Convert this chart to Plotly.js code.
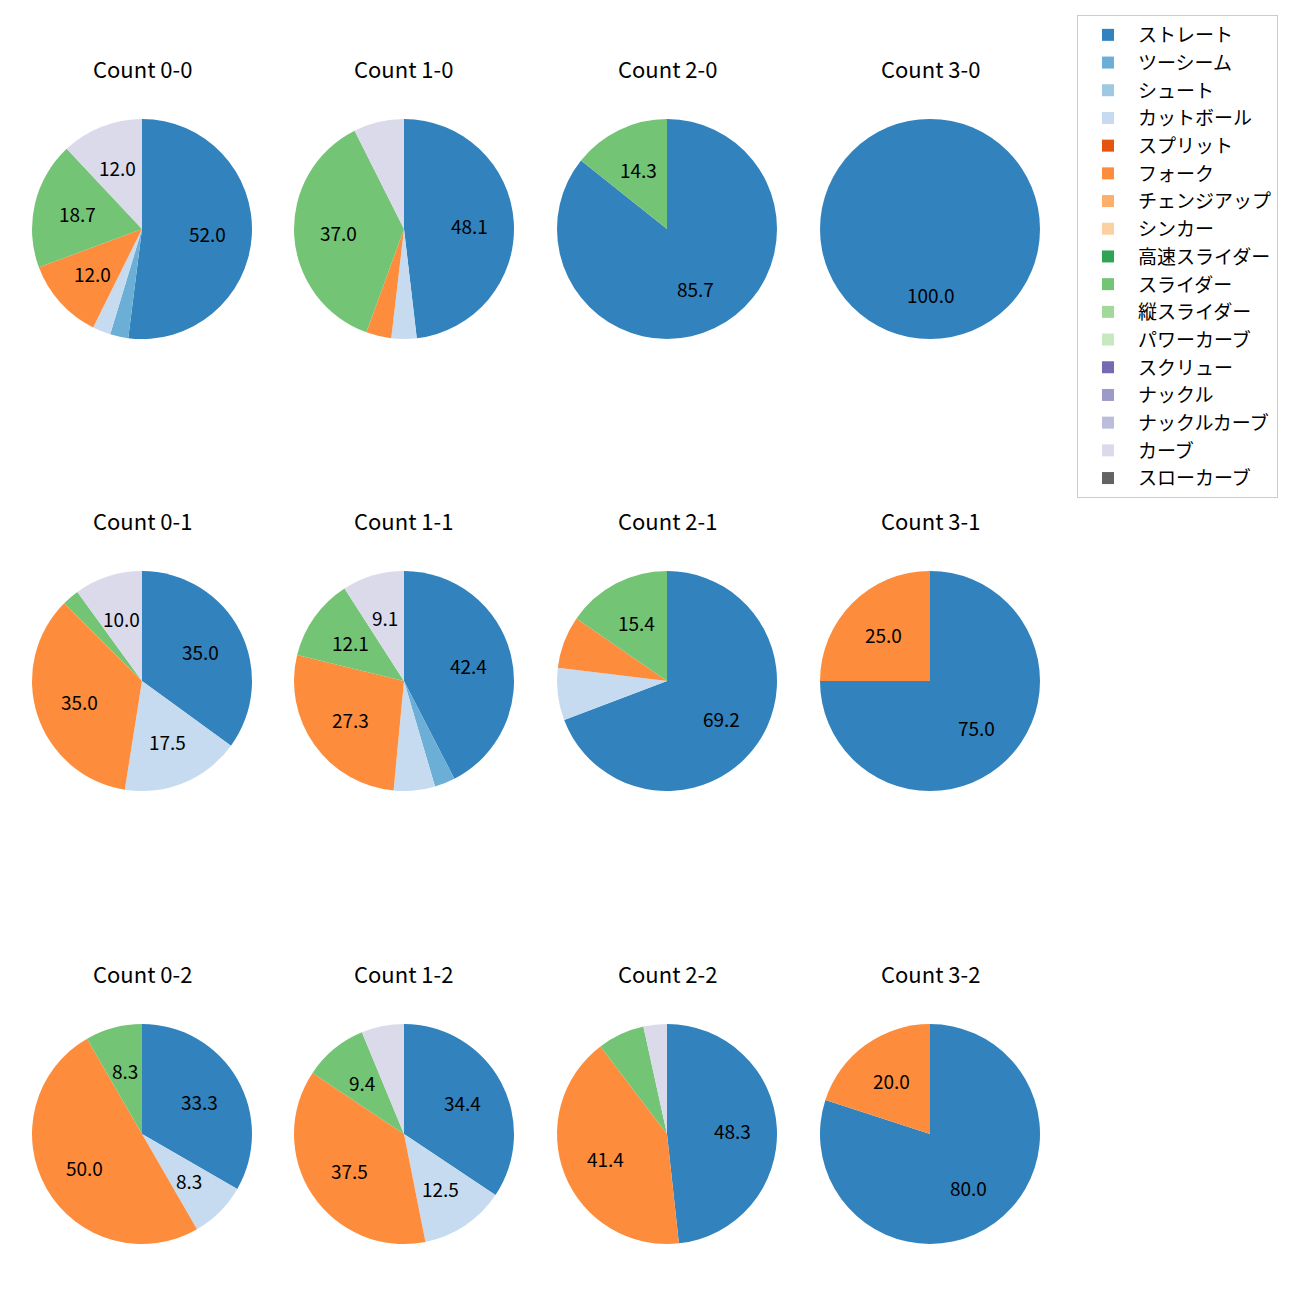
<!DOCTYPE html>
<html>
<head>
<meta charset="utf-8">
<script src="https://cdn.plot.ly/plotly-3.0.1.min.js"></script>
<style>html,body{margin:0;padding:0;background:#fff;}</style>
</head>
<body>
<div id="chart" style="width:1300px;height:1300px;"></div>
<script>
// ---- data ----
const pitchTypes = ['ストレート','ツーシーム','シュート','カットボール','スプリット','フォーク','チェンジアップ','シンカー','高速スライダー','スライダー','縦スライダー','パワーカーブ','スクリュー','ナックル','ナックルカーブ','カーブ','スローカーブ'];
const pitchColors = ['#3182bd','#6baed6','#9ecae1','#c6dbef','#e6550d','#fd8d3c','#fdae6b','#fdd0a2','#31a354','#74c476','#a1d99b','#c7e9c0','#756bb1','#9e9ac8','#bcbddc','#dadaeb','#636363'];
const countLabels = ['0-0','1-0','2-0','3-0','0-1','1-1','2-1','3-1','0-2','1-2','2-2','3-2'];
const c00 = [39,2,0,2,0,9,0,0,0,14,0,0,0,0,0,9,0];
const c10 = [13,0,0,1,0,1,0,0,0,10,0,0,0,0,0,2,0];
const c20 = [6,0,0,0,0,0,0,0,0,1,0,0,0,0,0,0,0];
const c30 = [1,0,0,0,0,0,0,0,0,0,0,0,0,0,0,0,0];
const c01 = [14,0,0,7,0,14,0,0,0,1,0,0,0,0,0,4,0];
const c11 = [14,1,0,2,0,9,0,0,0,4,0,0,0,0,0,3,0];
const c21 = [9,0,0,1,0,1,0,0,0,2,0,0,0,0,0,0,0];
const c31 = [3,0,0,0,0,1,0,0,0,0,0,0,0,0,0,0,0];
const c02 = [4,0,0,1,0,6,0,0,0,1,0,0,0,0,0,0,0];
const c12 = [11,0,0,4,0,12,0,0,0,3,0,0,0,0,0,2,0];
const c22 = [14,0,0,0,0,12,0,0,0,2,0,0,0,0,0,1,0];
const c32 = [4,0,0,0,0,1,0,0,0,0,0,0,0,0,0,0,0];
const countValues = [c00,c10,c20,c30,c01,c11,c21,c31,c02,c12,c22,c32];

// ---- layout geometry ----
const W = 1300, H = 1300;
const colCenters = [142, 404, 667, 930];
const rowCenters = [229, 681, 1134];
const R = 110;
const titleOffset = 161;
const labelMin = 8;
const FONT = '"Noto Sans CJK JP", "Noto Sans", sans-serif';

const traces = [];
const annotations = [];
countLabels.forEach((lab, i) => {
  const col = i % 4, row = Math.floor(i / 4);
  const cx = colCenters[col], cy = rowCenters[row];
  const vals = countValues[i];
  traces.push({
    type: 'pie',
    labels: pitchTypes,
    values: vals,
    marker: {colors: pitchColors, line: {width: 0}},
    sort: false,
    direction: 'clockwise',
    rotation: 0,
    textinfo: 'none',
    hoverinfo: 'label+percent',
    showlegend: i === 0,
    domain: {x: [(cx - R) / W, (cx + R) / W], y: [1 - (cy + R) / H, 1 - (cy - R) / H]}
  });
  annotations.push({
    text: 'Count ' + lab, xref: 'paper', yref: 'paper',
    x: cx / W, y: 1 - (cy - titleOffset) / H,
    xanchor: 'center', yanchor: 'middle', showarrow: false,
    font: {family: FONT, size: 22, color: '#000'}
  });
  const total = vals.reduce((a, b) => a + b, 0);
  let cum = 0;
  vals.forEach(v => {
    if (v > 0) {
      const pct = 100 * v / total;
      if (pct >= labelMin) {
        const ang = (90 - 360 * (cum + v / 2) / total) * Math.PI / 180;
        const px = cx + 0.6 * R * Math.cos(ang);
        const py = cy - 0.6 * R * Math.sin(ang);
        annotations.push({
          text: pct.toFixed(1), xref: 'paper', yref: 'paper',
          x: px / W, y: 1 - py / H, xanchor: 'center', yanchor: 'middle',
          showarrow: false, font: {family: FONT, size: 19, color: '#000'}
        });
      }
    }
    cum += v;
  });
});

const layout = {
  width: W, height: H,
  margin: {l: 0, r: 0, t: 0, b: 0},
  paper_bgcolor: '#fff',
  font: {family: FONT, color: '#000'},
  showlegend: true,
  legend: {
    x: 1077 / W, y: 1 - 15 / H, xanchor: 'left', yanchor: 'top',
    bordercolor: '#cccccc', borderwidth: 1, bgcolor: '#fff',
    font: {family: FONT, size: 19, color: '#000'},
    itemwidth: 50, traceorder: 'normal'
  },
  annotations: annotations
};

Plotly.newPlot('chart', traces, layout, {staticPlot: true});
</script>
</body>
</html>
